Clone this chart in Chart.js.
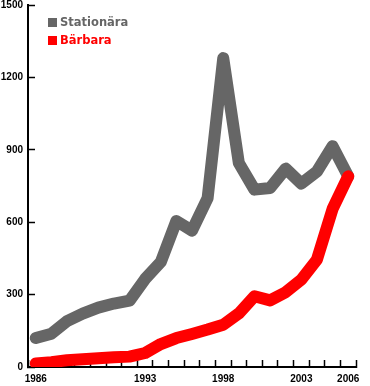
<!DOCTYPE html>
<html>
<head>
<meta charset="utf-8">
<script src="https://cdn.jsdelivr.net/npm/chart.js@4/dist/chart.umd.min.js"></script>
<style>
  body { margin: 0; background: #fff; }
  #wrap { position: relative; width: 370px; height: 386px; }
  .key { position: absolute; width: 9px; height: 9px; }
  .lbl {
    position: absolute;
    left: 60px;
    font-family: "DejaVu Sans", sans-serif;
    font-weight: bold;
    font-size: 11.5px;
    line-height: 13px;
    white-space: nowrap;
  }
</style>
</head>
<body>
<div id="wrap">
  <canvas id="chart" width="370" height="386"></canvas>
  <div class="key" style="left:48px; top:18px; background:#666666;"></div>
  <div class="lbl" style="top:16px; color:#666666;">Stationära</div>
  <div class="key" style="left:48px; top:36px; background:#ff0000;"></div>
  <div class="lbl" style="top:34px; color:#ff0000;">Bärbara</div>
</div>
<script>
const years = [
  "1986", "1987", "1988", "1989", "1990", "1991", "1992", "1993", "1994", "1995", "1996",
  "1997", "1998", "1999", "2000", "2001", "2002", "2003", "2004", "2005", "2006",
];
const shownYears = ["1986", "1993", "1998", "2003", "2006"];

// Stationära (gray)
const stationara = [120, 138, 190, 221, 246, 263, 275, 365, 435, 605, 565, 700, 1280, 845, 735, 742, 822, 760, 810, 915, 790];
// Bärbara (red)
const barbara = [15, 20, 28, 32, 36, 40, 43, 58, 95, 120, 137, 155, 175, 222, 293, 276, 310, 362, 445, 655, 790];

const yMax = 1500;
const yStep = 300;

const tickFont = {
  family: '"Liberation Sans", sans-serif',
  weight: "bold",
  size: 10,
};

var ctx = document.getElementById("chart").getContext("2d");
var chart = new Chart(ctx, {
  type: "line",
  data: {
    labels: years,
    datasets: [
      {
        label: "Bärbara",
        data: barbara,
        borderColor: "#ff0000",
        borderWidth: 12,
        borderJoinStyle: "round",
        borderCapStyle: "round",
        pointRadius: 0,
        tension: 0,
        clip: 0,
      },
      {
        label: "Stationära",
        data: stationara,
        borderColor: "#666666",
        borderWidth: 12,
        borderJoinStyle: "round",
        borderCapStyle: "round",
        pointRadius: 0,
        tension: 0,
        clip: 0,
      },
    ],
  },
  options: {
    responsive: false,
    animation: false,
    layout: { padding: { top: 5, right: 14, left: 0, bottom: 0 } },
    plugins: { legend: { display: false }, tooltip: { enabled: false } },
    scales: {
      x: {
        offset: true,
        grid: {
          offset: true,
          drawOnChartArea: false,
          drawTicks: true,
          tickLength: -7,
          tickColor: "#000",
          tickWidth: 1.5,
        },
        border: { color: "#000", width: 2 },
        ticks: {
          autoSkip: false,
          maxRotation: 0,
          padding: 13,
          color: "#000",
          font: tickFont,
          callback: function (value, index) {
            const y = years[index];
            return shownYears.includes(y) ? y : "";
          },
        },
        afterFit: function (s) {
          s.height = 19;
          s.paddingLeft = 0;
          s.paddingRight = 0;
        },
      },
      y: {
        min: 0,
        max: yMax,
        grid: {
          drawOnChartArea: false,
          drawTicks: true,
          tickLength: -7,
          tickColor: "#000",
          tickWidth: 1.5,
        },
        border: { color: "#000", width: 2 },
        ticks: {
          stepSize: yStep,
          padding: 12,
          color: "#000",
          font: tickFont,
          callback: (v) => String(v),
        },
        afterFit: function (s) {
          s.width = 28;
          s.paddingTop = 0;
          s.paddingBottom = 0;
        },
      },
    },
  },
});
</script>
</body>
</html>
